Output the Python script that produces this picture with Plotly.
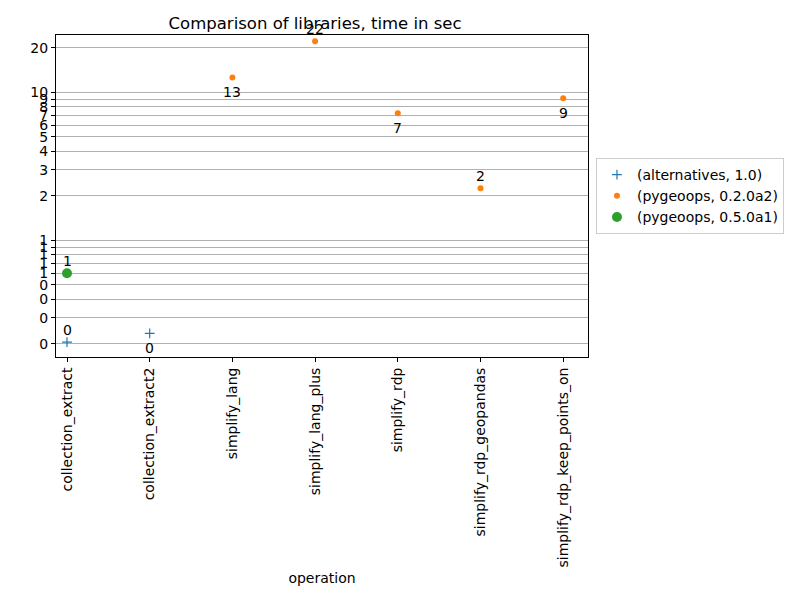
import math
import plotly.graph_objects as go

operations = ["collection_extract", "collection_extract2", "simplify_lang",
              "simplify_lang_plus", "simplify_rdp", "simplify_rdp_geopandas",
              "simplify_rdp_keep_points_on"]

# times in sec, per library/version
alt_ops = ["collection_extract", "collection_extract2"]
alt_times = [0.205, 0.235]
alt_labels = ["0", "0"]
alt_above = [True, False]

pg02_ops = ["simplify_lang", "simplify_lang_plus", "simplify_rdp",
            "simplify_rdp_geopandas", "simplify_rdp_keep_points_on"]
pg02_times = [12.6, 22.1, 7.21, 2.25, 9.1]
pg02_labels = ["13", "22", "7", "2", "9"]
pg02_above = [False, True, False, True, False]

pg05_ops = ["collection_extract"]
pg05_times = [0.598]
pg05_labels = ["1"]
pg05_above = [True]

ytick_vals = [0.2, 0.3, 0.4, 0.5, 0.6, 0.7, 0.8, 0.9, 1, 2, 3, 4, 5, 6, 7, 8, 9, 10, 20]
ytick_text = ["0", "0", "0", "0", "1", "1", "1", "1", "1", "2", "3", "4", "5",
              "6", "7", "8", "9", "10", "20"]

font = "DejaVu Sans"

fig = go.Figure()
fig.add_trace(go.Scatter(
    x=alt_ops, y=alt_times, mode="markers", name="(alternatives, 1.0)",
    marker=dict(symbol="cross-thin", size=7, color="#1f77b4",
                line=dict(color="#1f77b4", width=1.2))))
fig.add_trace(go.Scatter(
    x=pg02_ops, y=pg02_times, mode="markers", name="(pygeoops, 0.2.0a2)",
    marker=dict(symbol="circle", size=6, color="#ff7f0e")))
fig.add_trace(go.Scatter(
    x=pg05_ops, y=pg05_times, mode="markers", name="(pygeoops, 0.5.0a1)",
    marker=dict(symbol="circle", size=10, color="#2ca02c")))

# value labels, alternating above / below the marker
# (annotation y on a log axis is given as log10 of the value)
for ops, times, labels, above in [(alt_ops, alt_times, alt_labels, alt_above),
                                  (pg02_ops, pg02_times, pg02_labels, pg02_above),
                                  (pg05_ops, pg05_times, pg05_labels, pg05_above)]:
    for op, t, lbl, up in zip(ops, times, labels, above):
        fig.add_annotation(x=op, y=math.log10(t), yref="y", text=lbl, showarrow=False,
                           yshift=12 if up else -15,
                           font=dict(family=font, size=14, color="black"))

# the page has an 8px body margin, margins below compensate for it
fig.update_layout(
    width=800, height=600,
    paper_bgcolor="white", plot_bgcolor="white",
    font=dict(family=font, size=14, color="black"),
    margin=dict(l=48, r=220, t=27, b=251),
    title=dict(text="Comparison of libraries, time in sec", x=0.487, xref="paper",
               xanchor="center", y=1, yref="paper", yanchor="bottom", pad=dict(b=6),
               font=dict(size=16.5)),
    legend=dict(x=1.015, y=0.5, xanchor="left", yanchor="middle",
                bordercolor="#cccccc", borderwidth=1, font=dict(size=14),
                tracegroupgap=0),
    showlegend=True,
)
fig.update_xaxes(
    type="category", categoryorder="array", categoryarray=operations,
    range=[-0.133, 6.30], tickangle=-90, showgrid=False,
    showline=True, linecolor="black", linewidth=1, mirror=True,
    ticks="outside", ticklen=4, tickcolor="black", tickfont=dict(size=14),
    title=dict(text="operation", standoff=6, font=dict(size=14)))
fig.update_yaxes(
    type="log", range=[-0.789, 1.387],
    tickvals=ytick_vals, ticktext=ytick_text, tickfont=dict(size=14),
    showgrid=True, gridcolor="#b0b0b0", gridwidth=1,
    showline=True, linecolor="black", linewidth=1, mirror=True,
    ticks="outside", ticklen=4, tickcolor="black", zeroline=False)

fig.write_html("out.html")
